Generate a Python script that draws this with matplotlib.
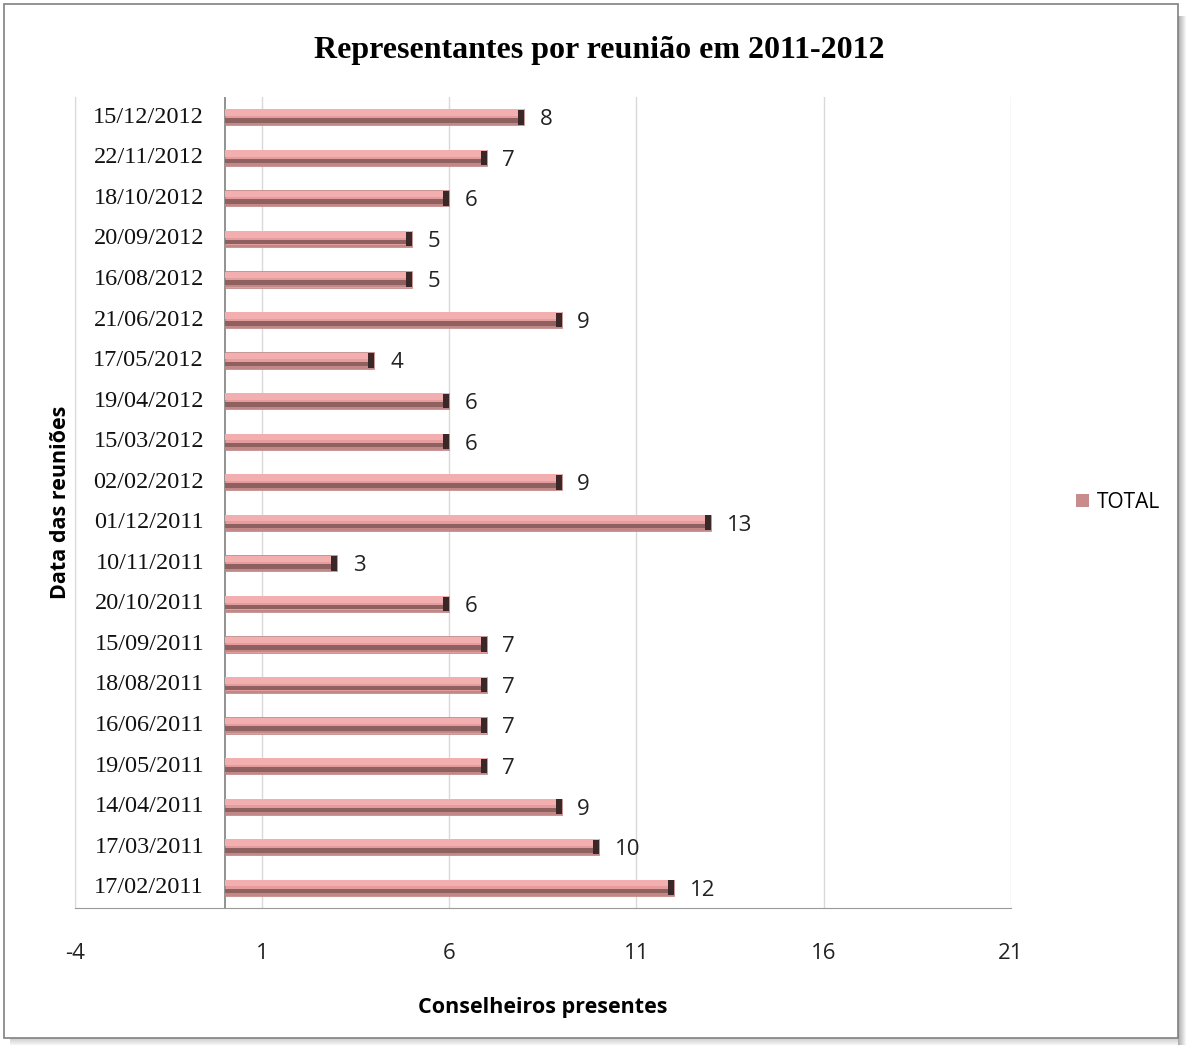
import matplotlib.pyplot as plt
import numpy as np
from matplotlib.patches import Rectangle

# meeting dates, bottom to top as drawn
datas = ["17/02/2011", "17/03/2011", "14/04/2011", "19/05/2011", "16/06/2011",
         "18/08/2011", "15/09/2011", "20/10/2011", "10/11/2011", "01/12/2011",
         "02/02/2012", "15/03/2012", "19/04/2012", "17/05/2012", "21/06/2012",
         "16/08/2012", "20/09/2012", "18/10/2012", "22/11/2012", "15/12/2012"]
total = [12, 10, 9, 7, 7, 7, 7, 6, 3, 13, 9, 6, 6, 4, 9, 5, 5, 6, 7, 8]
xticks = [-4, 1, 6, 11, 16, 21]

sans = ["Open Sans", "DejaVu Sans"]
serif = ["Liberation Serif", "DejaVu Serif"]

W, H = 1186, 1045
fig = plt.figure(figsize=(W / 100, H / 100), dpi=100, facecolor="white")

# outer frame with a soft shadow on the right and bottom (pixel units)
fl, fb, fr, ft = 4, 7, 1178, 1041
for k in range(8):
    a = 0.32 * (1 - k / 8)
    fig.patches.append(Rectangle(((fr + k) / W, (fb - 8) / H), 1 / W, (ft - fb - 4) / H,
                                 transform=fig.transFigure, facecolor=(0, 0, 0, a),
                                 edgecolor="none", zorder=-2))
    fig.patches.append(Rectangle(((fl + 6) / W, (fb - 1 - k) / H), (fr - fl - 6) / W, 1 / H,
                                 transform=fig.transFigure, facecolor=(0, 0, 0, a * 0.6),
                                 edgecolor="none", zorder=-2))
fig.patches.append(Rectangle((fl / W, fb / H), (fr - fl) / W, (ft - fb) / H,
                             transform=fig.transFigure, facecolor="white",
                             edgecolor="#808080", linewidth=1.2, zorder=-1))

ax = fig.add_axes([0.0632, 0.1311, 0.789, 0.7761])
ax.set_zorder(2)
ax.patch.set_alpha(0)
y = np.arange(len(datas))
h = 0.40
vals = np.array(total)

# bevelled bar look built from stacked bands
ax.barh(y, vals, height=h, color="#e59c9c", edgecolor="#b98080", linewidth=0.5, zorder=3)
ax.barh(y + h * 0.28, vals, height=h * 0.40, color="#f3afaf", linewidth=0, zorder=4)
ax.barh(y - h * 0.20, vals, height=h * 0.28, color="#8e6060", linewidth=0, zorder=4)
ax.barh(y - h * 0.42, vals, height=h * 0.14, color="#c28888", linewidth=0, zorder=4)
ax.barh(y, [0.16] * len(vals), left=vals - 0.16, height=h * 0.9,
        color="#3a2828", linewidth=0, zorder=5)

for yi, v in zip(y, total):
    ax.text(v + 0.42, yi - 0.06, str(v), ha="left", va="center", fontsize=16,
            family=sans, color="#222222")

for yi, d in zip(y, datas):
    ax.text(-0.55, yi, d, ha="right", va="center", fontsize=17.5,
            family=serif, color="#111111")

ax.set_xlim(-4, 21)
ax.set_ylim(-0.5, len(datas) - 0.5)
ax.set_xticks(xticks)
ax.set_xticklabels([str(t) for t in xticks], family=sans, fontsize=16)
ax.set_yticks([])
ax.tick_params(axis="x", length=0, pad=25, colors="#222222")
ax.xaxis.grid(True, color="#d9d9d9", linewidth=1, zorder=0)
ax.set_axisbelow(True)
ax.axvline(0, color="#7f7f7f", linewidth=1.2, zorder=2)

for s in ["top", "right"]:
    ax.spines[s].set_visible(False)
ax.spines["left"].set_color("#d9d9d9")
ax.spines["bottom"].set_color("#9a9a9a")

ax.set_xlabel("Conselheiros presentes", family=sans, fontsize=15.5, fontweight="bold",
              labelpad=24)
ax.set_ylabel("Data das reuniões", family=sans, fontsize=15.5, fontweight="bold",
              labelpad=3)

fig.text(0.505, 0.952, "Representantes por reunião em 2011-2012", ha="center",
         va="center", family=serif, fontsize=23, fontweight="bold")

# legend
ax.barh([0], [0], color="#c98c8c", label="TOTAL")
ax.legend(loc="center left", bbox_to_anchor=(1.05, 0.5), frameon=False,
          prop={"family": sans, "size": 15}, handlelength=0.6, handleheight=0.6,
          handletextpad=0.4)

fig.savefig("out.png", dpi=100)
